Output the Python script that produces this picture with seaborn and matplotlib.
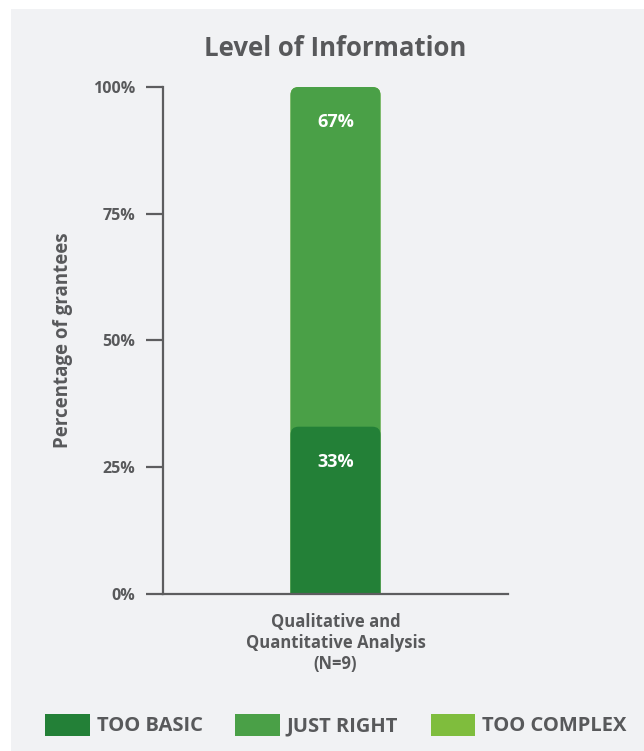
import matplotlib
matplotlib.use("Agg")
import matplotlib.pyplot as plt
from matplotlib.patches import Rectangle, FancyBboxPatch, Patch
import seaborn as sns
import pandas as pd

# Survey results (percent of grantees)
categories = ["Qualitative and\nQuantitative Analysis\n(N=9)"]
too_basic = [33]
just_right = [67]
too_complex = [0]
series_names = ["TOO BASIC", "JUST RIGHT", "TOO COMPLEX"]
series_colors = ["#238037", "#4aa047", "#7fbd3d"]
y_ticks = [0, 25, 50, 75, 100]
y_tick_labels = ["0%", "25%", "50%", "75%", "100%"]

sns.set_theme(style="white")
plt.rcParams["font.family"] = ["Open Sans", "DejaVu Sans"]
TEXT = "#58595b"

W, H = 644, 751
fig = plt.figure(figsize=(W / 100, H / 100), dpi=100, facecolor="white")
# light panel behind the chart
fig.patches.append(Rectangle((11 / W, 0), 1 - 11 / W, 1 - 9 / H,
                             transform=fig.transFigure, facecolor="#f1f2f4",
                             edgecolor="none", zorder=-10))

left, right, top, bottom = 163, 508, 87, 594
ax = fig.add_axes([left / W, 1 - bottom / H, (right - left) / W, (bottom - top) / H])
ax.set_facecolor("none")
ax.set_zorder(1)

df = pd.DataFrame({
    "category": categories,
    "too_basic": too_basic,
    "just_right": just_right,
    "too_complex": too_complex,
})
df["top_just_right"] = df["too_basic"] + df["just_right"]
df["top_too_complex"] = df["top_just_right"] + df["too_complex"]

bar_w = 90 / (right - left)
# stacked: draw cumulative totals from back to front
for col, color in [("top_too_complex", series_colors[2]),
                   ("top_just_right", series_colors[1]),
                   ("too_basic", series_colors[0])]:
    sns.barplot(data=df, x="category", y=col, color=color, width=bar_w,
                saturation=1, ax=ax, zorder=2)

ax.set_xlim(-0.5, 0.5)
ax.set_ylim(0, 100)

# swap plain rectangles for bars with rounded top corners
px_x = 1 / (right - left)
px_y = 100 / (bottom - top)
aspect = px_y / px_x
r = 8 * px_x
bars = [p for p in ax.patches if isinstance(p, Rectangle)]
for p in bars:
    x0, y0 = p.get_x(), p.get_y()
    w, h = p.get_width(), p.get_height()
    fc = p.get_facecolor()
    p.remove()
    if h <= 0:
        continue
    ext = 10 * px_y
    fb = FancyBboxPatch((x0 + r, y0 - ext + r * aspect), w - 2 * r, h + ext - 2 * r * aspect,
                        boxstyle=f"round,pad={r},rounding_size={r}",
                        mutation_aspect=aspect, facecolor=fc, edgecolor="none",
                        zorder=2, clip_on=True)
    ax.add_patch(fb)

# value labels near the top of each segment
segments = [(too_basic[0], too_basic[0]), (just_right[0], too_basic[0] + just_right[0])]
for val, seg_top in segments:
    ax.text(0, seg_top - 6.9, f"{val}%", ha="center", va="center",
            color="white", fontsize=13, fontweight="bold", zorder=3)

# axes styling
for s in ["top", "right"]:
    ax.spines[s].set_visible(False)
for s in ["left", "bottom"]:
    ax.spines[s].set_color("#5d5d5f")
    ax.spines[s].set_linewidth(1.6)
    ax.spines[s].set_zorder(4)
ax.set_yticks(y_ticks)
ax.set_yticklabels(y_tick_labels)
ax.tick_params(axis="y", left=True, length=12, width=1.6, color="#5d5d5f",
               pad=8, labelsize=11.5, labelcolor=TEXT)
ax.tick_params(axis="x", bottom=False, pad=8, labelsize=12, labelcolor=TEXT)
for t in ax.get_yticklabels() + ax.get_xticklabels():
    t.set_fontweight("bold")
ax.set_xlabel("")
ax.set_ylabel("Percentage of grantees", fontsize=13.5, fontweight="bold",
              color=TEXT)
ax.yaxis.set_label_coords(-(left - 73) / (right - left), 0.5)

fig.text(335 / W, 1 - 49 / H, "Level of Information", ha="center", va="center",
         fontsize=18.5, fontweight="bold", color=TEXT)

handles = [Patch(facecolor=c, edgecolor="none") for c in series_colors]
leg = fig.legend(handles, series_names, loc="center", ncol=3,
                 bbox_to_anchor=(336 / W, 1 - 725 / H), frameon=False,
                 handlelength=2.19, handleheight=1.3, handletextpad=0.35,
                 columnspacing=1.64, fontsize=14.5)
for t in leg.get_texts():
    t.set_color(TEXT)
    t.set_fontweight("bold")

fig.savefig("out.png", dpi=100, facecolor="white")
